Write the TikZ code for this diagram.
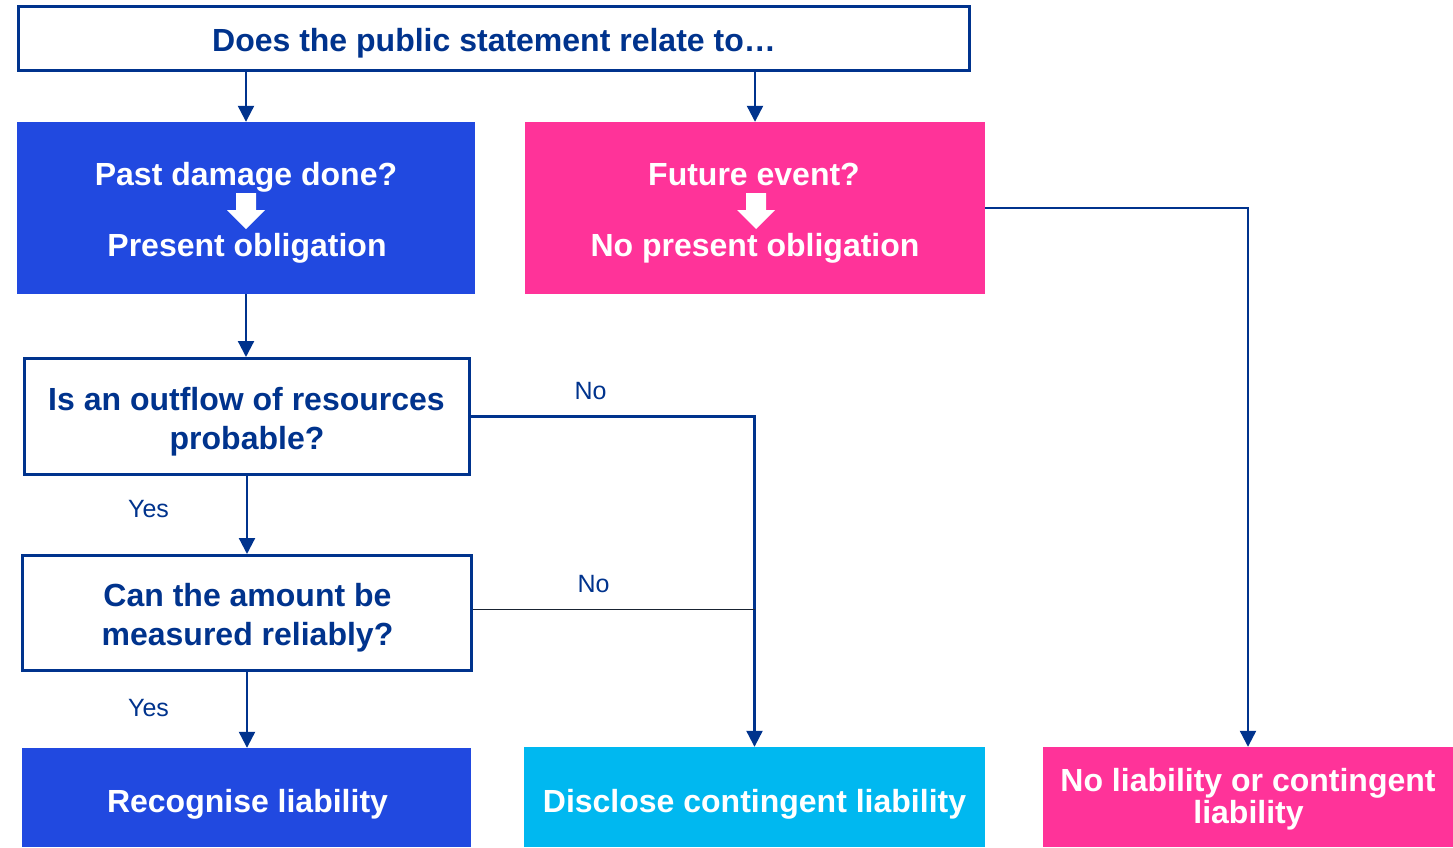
\documentclass[tikz,border=0pt]{standalone}
\usepackage{fontspec}
\setmainfont{Liberation Sans}
\usetikzlibrary{arrows.meta}

\definecolor{navy}{RGB}{0,51,141}
\definecolor{royal}{RGB}{33,73,224}
\definecolor{hotpink}{RGB}{255,51,153}
\definecolor{sky}{RGB}{0,184,240}
\definecolor{thinline}{RGB}{25,35,50}

\tikzset{
  outline/.style={draw=navy, line width=3pt, fill=white, inner sep=0pt},
  panel/.style={fill=#1, inner sep=0pt},
  bigtext/.style={font=\fontsize{32}{38}\selectfont\bfseries, anchor=base, inner sep=0pt, text=#1},
  lbl/.style={font=\fontsize{25}{30}\selectfont, text=navy, anchor=base, inner sep=0pt},
  conn/.style={draw=navy, line width=2.2pt, -{Triangle[width=16pt,length=16pt]}},
  branch/.style={draw=thinline, line width=1pt},
  blockarrow/.style={fill=white}
}

\begin{document}
\begin{tikzpicture}[x=1pt,y=-1pt]
\useasboundingbox (0,0) rectangle (1453,847);

% boxes
\node[outline, minimum width=951pt, minimum height=64pt] (q) at (494,38.5) {};
\node[panel=royal, minimum width=458pt, minimum height=172pt] (past) at (246,208) {};
\node[panel=hotpink, minimum width=460pt, minimum height=172pt] (future) at (755,208) {};
\node[outline, minimum width=445pt, minimum height=116pt] (outflow) at (247,416.5) {};
\node[outline, minimum width=449pt, minimum height=115pt] (measure) at (247,613) {};
\node[panel=royal, minimum width=449pt, minimum height=99pt] (recog) at (246.5,797.5) {};
\node[panel=sky, minimum width=461pt, minimum height=100pt] (disclose) at (754.5,797) {};
\node[panel=hotpink, minimum width=410pt, minimum height=100pt] (noliab) at (1248,797) {};

% white block arrows inside the upper panels
\fill[blockarrow] (236,193) -- (256,193) -- (256,210) -- (265,210) -- (246,229) -- (227,210) -- (236,210) -- cycle;
\fill[blockarrow] (746,193) -- (766,193) -- (766,210) -- (775,210) -- (756,229) -- (737,210) -- (746,210) -- cycle;

% texts
\node[bigtext=navy] (tq) at (494,51.5) {Does the public statement relate to…};
\node[bigtext=white] (tpast1) at (246,185) {Past damage done?};
\node[bigtext=white] (tpast2) at (247,256) {Present obligation};
\node[bigtext=white] (tfut1) at (754,185) {Future event?};
\node[bigtext=white] (tfut2) at (755,256) {No present obligation};
\node[bigtext=navy] (tout1) at (246.5,410.5) {Is an outflow of resources};
\node[bigtext=navy] (tout2) at (247,449.5) {probable?};
\node[bigtext=navy] (tmea1) at (247.5,606.5) {Can the amount be};
\node[bigtext=navy] (tmea2) at (247.5,645.5) {measured reliably?};
\node[bigtext=white] (trec) at (247.5,812.5) {Recognise liability};
\node[bigtext=white] (tdis) at (754.5,812.5) {Disclose contingent liability};
\node[bigtext=white] (tnol1) at (1248,791.5) {No liability or contingent};
\node[bigtext=white] (tnol2) at (1248.5,823.5) {liability};

\node[lbl] (no1) at (590.5,399) {No};
\node[lbl] (no2) at (593.5,592) {No};
\node[lbl] (yes1) at (148.5,517) {Yes};
\node[lbl] (yes2) at (148.5,716) {Yes};

% connectors
\draw[conn] (q.south -| past.north) -- (past.north);
\draw[conn] (q.south -| future.north) -- (future.north);
\draw[conn] (past.south) -- (past.south |- outflow.north);
\draw[conn] (outflow.south) -- (measure.north);
\draw[conn] (measure.south) -- (measure.south |- recog.north);
\draw[conn] (outflow.east) -| (disclose.north);
\draw[branch] ([yshift=4pt]measure.east) -- ([yshift=4pt]measure.east -| disclose.north);
\draw[conn] (future.east) -| (noliab.north);
\end{tikzpicture}
\end{document}
